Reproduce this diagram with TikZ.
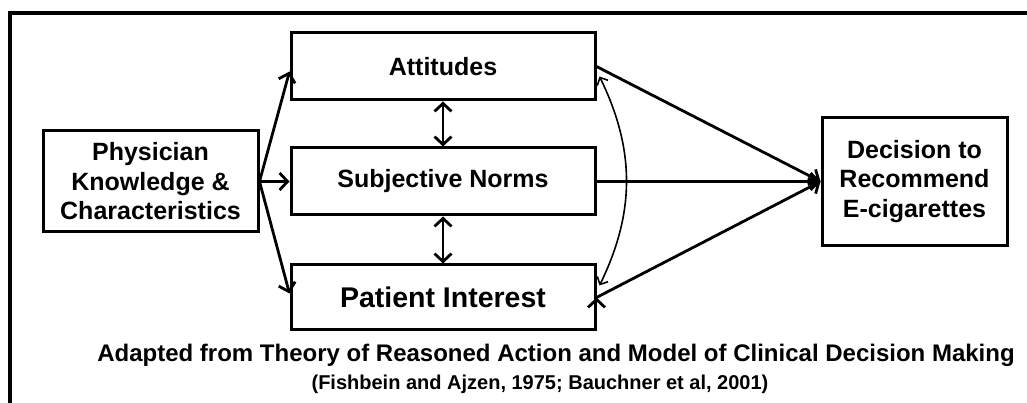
\documentclass[tikz,border=0pt]{standalone}
\usepackage{fontspec}
\setmainfont{Liberation Sans}
\usetikzlibrary{arrows.meta,positioning}

\begin{document}
\begin{tikzpicture}[x=1pt,y=1pt,>={Straight Barb[length=8pt,width=17pt]},
                    node distance=45pt]
  \tikzstyle{box}=[draw,line width=3pt,minimum width=304pt,minimum height=67pt,
                   align=center,font=\fontsize{25}{29.5}\selectfont\bfseries]
  \tikzstyle{link}=[line width=2.8pt,->]

  \useasboundingbox (0,0) rectangle (1027,403);
  \clip (0,0) rectangle (1027,403);
  \draw[line width=4.5pt] (10,-10) -- (10,390) -- (1040,390);

  \node[box] (norms) at (443,221.5) {Subjective Norms};
  \node[box] (att) [above=45pt of norms] {Attitudes};
  \node[box,minimum height=65pt,font=\fontsize{28.5}{32}\selectfont\bfseries]
        (pat) [below=47pt of norms] {Patient Interest};
  \node[box,minimum width=215pt,minimum height=101pt]
        (phys) [left=30pt of norms] {Physician\\Knowledge \&\\Characteristics};
  \node[box,minimum width=185pt,minimum height=128pt]
        (dec) [right=224pt of norms] {Decision to\\Recommend\\E-cigarettes};

  \draw[link]
        (phys.east) edge ([yshift=-5pt]att.west)
        (phys.east) edge (norms.west)
        (phys.east) edge ([yshift=4pt]pat.west)
        (att) edge [<->] (norms)
        (norms) edge [<->] (pat)
        (att.east) edge (dec.west)
        (norms.east) edge (dec.west)
        (pat.east) edge (dec.west);
  \draw[line width=1.6pt,<->,>={Straight Barb[length=6pt,width=12pt]}]
        ([xshift=3pt,yshift=-10pt]att.east) to [bend left=26]
        ([xshift=3pt,yshift=12pt]pat.east);

  \node (title) [anchor=base,font=\fontsize{24}{28}\selectfont\bfseries] at (556,41)
        {Adapted from Theory of Reasoned Action and Model of Clinical Decision Making};
  \node (cite) [anchor=base,font=\fontsize{20}{24}\selectfont\bfseries] at (540,13)
        {(Fishbein and Ajzen, 1975; Bauchner et al, 2001)};
\end{tikzpicture}
\end{document}
